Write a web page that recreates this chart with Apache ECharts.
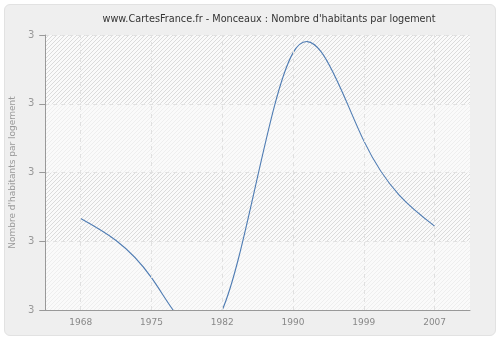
<!DOCTYPE html>
<html><head><meta charset="utf-8">
<script src="https://cdn.jsdelivr.net/npm/echarts@6/dist/echarts.min.js"></script>
<style>
html,body{margin:0;padding:0;background:#fff;}
#wrap{position:absolute;left:4px;top:4px;width:490px;height:330px;background:#efefef;border:1px solid #e2e2e2;border-radius:6px;}
#c{position:absolute;left:0;top:0;width:500px;height:340px;}
</style></head>
<body><div id="wrap"></div><div id="c"></div>
<script>
var titleText = "www.CartesFrance.fr - Monceaux : Nombre d'habitants par logement";
var yAxisName = "Nombre d'habitants par logement";
var years = ["1968", "1975", "1982", "1990", "1999", "2007"];
var values = [2.933, 2.847, 2.8, 3.174, 3.046, 2.922];
var yMin = 2.8, yMax = 3.2, yStep = 0.1;

function hatch(alpha){
  var c = document.createElement('canvas'); c.width = 4; c.height = 4;
  var g = c.getContext('2d');
  g.fillStyle = '#fafafa'; g.fillRect(0,0,4,4);
  g.strokeStyle = 'rgba(215,215,215,' + alpha + ')'; g.lineWidth = 1;
  for (var k = -4; k <= 8; k += 4) { g.beginPath(); g.moveTo(k, 4); g.lineTo(k + 4, 0); g.stroke(); }
  return {image: c, repeat: 'repeat'};
}

// natural cubic spline through pixel points (uniform x spacing), drawn as bezier segments
function splinePath(pts){
  var n = pts.length, y = pts.map(function(p){return p[1];});
  var M = new Array(n).fill(0);
  if (n > 2) {
    var a = [], b = [], c = [], d = [];
    for (var i = 1; i < n - 1; i++) { a.push(1); b.push(4); c.push(1); d.push(6 * (y[i+1] - 2*y[i] + y[i-1])); }
    var m = b.length;
    for (var i = 1; i < m; i++) { var w = a[i] / b[i-1]; b[i] -= w * c[i-1]; d[i] -= w * d[i-1]; }
    var sol = new Array(m); sol[m-1] = d[m-1] / b[m-1];
    for (var i = m - 2; i >= 0; i--) sol[i] = (d[i] - c[i] * sol[i+1]) / b[i];
    for (var i = 0; i < m; i++) M[i+1] = sol[i];
  }
  var s = 'M' + pts[0][0] + ',' + pts[0][1];
  for (var i = 0; i < n - 1; i++) {
    var dy = y[i+1] - y[i];
    var d0 = dy - (2*M[i] + M[i+1]) / 6, d1 = dy + (M[i] + 2*M[i+1]) / 6;
    var dx = pts[i+1][0] - pts[i][0];
    s += 'C' + (pts[i][0] + dx/3) + ',' + (y[i] + d0/3) + ',' + (pts[i+1][0] - dx/3) + ',' + (y[i+1] - d1/3) + ',' + pts[i+1][0] + ',' + y[i+1];
  }
  return s;
}

var chart = echarts.init(document.getElementById('c'), null, {renderer: 'canvas'});
chart.setOption({
  backgroundColor: 'transparent',
  animation: false,
  title: {text: titleText, left: 264, top: 9, textAlign: 'center',
    textStyle: {fontFamily: 'DejaVu Sans', fontSize: 9.7, fontWeight: 'normal', color: '#333'}},
  grid: {left: 41, right: 30, top: 35, bottom: 30, show: true, backgroundColor: '#fafafa', borderWidth: 0},
  xAxis: {type: 'category', data: years, boundaryGap: true,
    axisLine: {lineStyle: {color: '#999'}},
    axisTick: {alignWithLabel: true, length: 5, lineStyle: {color: '#999'}},
    axisLabel: {color: '#888', fontFamily: 'DejaVu Sans', fontSize: 9, margin: 8},
    splitLine: {show: false}},
  yAxis: {type: 'value', min: yMin, max: yMax, interval: yStep,
    name: yAxisName, nameLocation: 'middle', nameGap: 28,
    nameTextStyle: {color: '#999', fontFamily: 'DejaVu Sans', fontSize: 9},
    axisLine: {show: true, lineStyle: {color: '#999'}},
    axisTick: {show: true, length: 6, lineStyle: {color: '#999'}},
    axisLabel: {color: '#999', fontFamily: 'DejaVu Sans', fontSize: 10, margin: 11,
      formatter: function(v){ return Math.round(v).toString(); }},
    splitLine: {lineStyle: {color: '#e0e0e0', type: [4, 4]}},
    splitArea: {show: true, areaStyle: {color: [hatch(0.35), hatch(0.9)]}}},
  series: [
    {type: 'line', data: years.map(function(){return null;}), symbol: 'none', silent: true,
      markLine: {silent: true, symbol: 'none', label: {show: false},
        lineStyle: {color: '#e0e0e0', type: [4, 4], width: 1},
        data: years.map(function(y){ return {xAxis: y}; })}},
    {type: 'custom', clip: true, silent: true, data: [0],
      renderItem: function(params, api){
        var pts = values.map(function(v, i){ return api.coord([i, v]); });
        return {type: 'path', shape: {pathData: splinePath(pts)},
          style: {fill: null, stroke: '#4f7cb3', lineWidth: 1.1}};
      }}
  ]
});
</script></body></html>
